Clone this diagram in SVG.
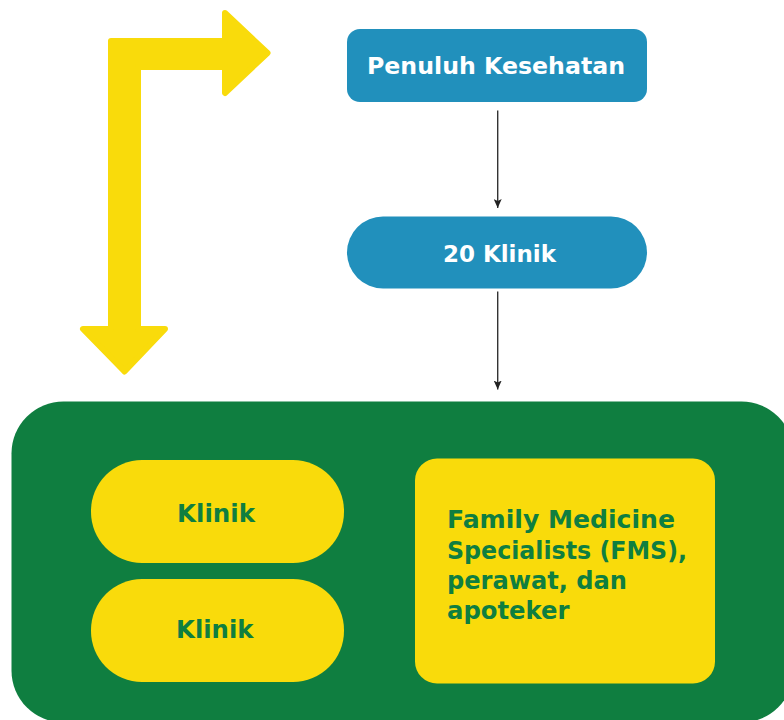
<svg xmlns="http://www.w3.org/2000/svg" width="784" height="720" viewBox="0 0 784 720">
  <defs>
    <style>
      .blue { fill: #2190BC; }
      .yellow { fill: #F9DB0B; }
      .green { fill: #0F7E40; }
      .wt { fill: #FFFFFF; font-family: "DejaVu Sans", "Liberation Sans", sans-serif; font-weight: bold; font-size: 23.5px; }
      .gt { fill: #0F7E40; font-family: "DejaVu Sans", "Liberation Sans", sans-serif; font-weight: bold; font-size: 24.5px; }
      .conn { stroke: #333333; stroke-width: 1.4; fill: none; }
    </style>
    <marker id="ah" markerWidth="9" markerHeight="8" refX="9" refY="4" orient="auto" markerUnits="userSpaceOnUse" viewBox="0 0 9 8">
      <path d="M0,0 L9,4 L0,8 L2,4 Z" fill="#222222"/>
    </marker>
  </defs>
  <rect width="784" height="720" fill="#FFFFFF"/>

  <g id="bent-arrow">
    <polygon class="yellow" stroke="#F9DB0B" stroke-width="6" stroke-linejoin="round"
      points="111,41 225,41 225,13 267.5,53 225,93 225,67 138,67 138,329 165,329 124.5,371.5 83,329 111,329"/>
  </g>

  <g id="penuluh">
    <rect class="blue" x="347" y="29" width="300" height="73" rx="13"/>
    <text class="wt" x="367" y="74" textLength="258" lengthAdjust="spacingAndGlyphs">Penuluh Kesehatan</text>
  </g>

  <g id="klinik20">
    <rect class="blue" x="347" y="216.5" width="300" height="72" rx="36"/>
    <text class="wt" x="443" y="261.5" textLength="113" lengthAdjust="spacingAndGlyphs">20 Klinik</text>
  </g>

  <g id="connectors">
    <line class="conn" x1="497.7" y1="110.5" x2="497.7" y2="208" marker-end="url(#ah)"/>
    <line class="conn" x1="497.7" y1="291.5" x2="497.7" y2="389.5" marker-end="url(#ah)"/>
  </g>

  <g id="container">
    <rect class="green" x="11.5" y="401.5" width="782" height="321" rx="52"/>
  </g>

  <g id="klinik-a">
    <rect class="yellow" x="91" y="460" width="253" height="103" rx="51"/>
    <text class="gt" x="177" y="521.5" textLength="78" lengthAdjust="spacingAndGlyphs">Klinik</text>
  </g>

  <g id="klinik-b">
    <rect class="yellow" x="91" y="579" width="253" height="103" rx="51"/>
    <text class="gt" x="176" y="637.5" textLength="77.5" lengthAdjust="spacingAndGlyphs">Klinik</text>
  </g>

  <g id="fms">
    <rect class="yellow" x="415" y="458.5" width="300" height="225" rx="22"/>
    <text class="gt" x="447">
      <tspan x="447" y="528.3" textLength="228" lengthAdjust="spacingAndGlyphs">Family Medicine</tspan>
      <tspan x="447" y="558.5" textLength="240" lengthAdjust="spacingAndGlyphs">Specialists (FMS),</tspan>
      <tspan x="447" y="588.8" textLength="180" lengthAdjust="spacingAndGlyphs">perawat, dan</tspan>
      <tspan x="447" y="619" textLength="122.5" lengthAdjust="spacingAndGlyphs">apoteker</tspan>
    </text>
  </g>
</svg>
